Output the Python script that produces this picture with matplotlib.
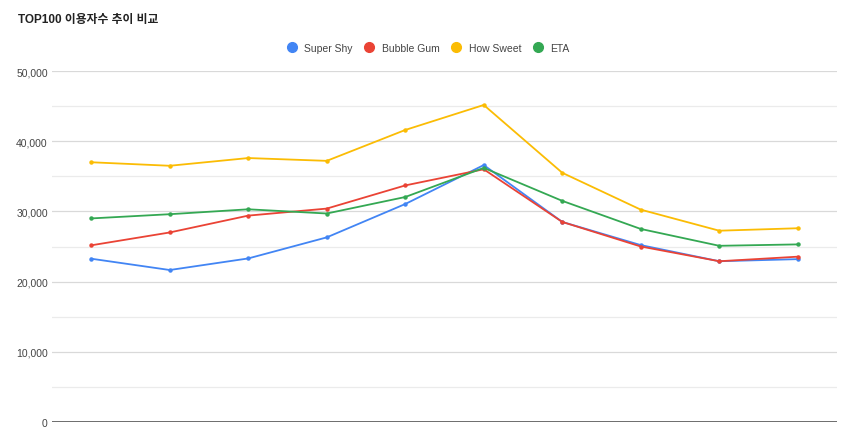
import matplotlib.pyplot as plt
from matplotlib.lines import Line2D
from matplotlib.ticker import FuncFormatter, MultipleLocator

plt.rcParams['font.family'] = ['Liberation Sans', 'Noto Sans CJK KR', 'DejaVu Sans']

title = 'TOP100 이용자수 추이 비교'
series_names = ['Super Shy', 'Bubble Gum', 'How Sweet', 'ETA']
colors = ['#4285F4', '#EA4335', '#FBBC04', '#34A853']

super_shy = [23260, 21650, 23300, 26300, 31050, 36600, 28500, 25200, 22900, 23200]
bubble_gum = [25170, 27000, 29400, 30400, 33700, 36000, 28500, 25000, 22900, 23550]
how_sweet = [37000, 36500, 37600, 37200, 41600, 45160, 35500, 30250, 27250, 27600]
eta = [29000, 29600, 30300, 29700, 32050, 36200, 31500, 27500, 25100, 25300]

values = [super_shy, bubble_gum, how_sweet, eta]
x = list(range(len(super_shy)))

fig = plt.figure(figsize=(8.5, 4.39), dpi=100)
ax = fig.add_axes([52 / 850, 16 / 439, (837 - 52) / 850, (423 - 72) / 439])

for vals, c in zip(values, colors):
    ax.plot(x, vals, color=c, lw=1.3, marker='o', ms=2.2, zorder=3)

ax.set_xlim(-0.5, len(x) - 0.5)
ax.set_ylim(0, 50000)
ax.yaxis.set_major_locator(MultipleLocator(10000))
ax.yaxis.set_minor_locator(MultipleLocator(5000))
ax.yaxis.set_major_formatter(FuncFormatter(lambda v, p: f'{int(v):,}'))
ax.grid(axis='y', which='major', color='#d9d9d9', lw=0.9)
ax.grid(axis='y', which='minor', color='#ebebeb', lw=0.9)
ax.axhline(0, color='#555555', lw=1.2, zorder=4)
ax.set_xticks([])
ax.tick_params(axis='y', which='both', length=0, labelsize=7.5, labelcolor='#444444', pad=3)
for s in ax.spines.values():
    s.set_visible(False)

fig.text(18 / 850, 1 - 20 / 439, title, fontsize=8.5, fontweight='bold',
         color='#222222', va='center', ha='left')

handles = [Line2D([], [], ls='none', marker='o', ms=7, color=c) for c in colors]
fig.legend(handles, series_names, loc='center', bbox_to_anchor=(428 / 850, 1 - 49 / 439),
           ncol=4, frameon=False, fontsize=7.5, handletextpad=0.7, columnspacing=1.1,
           labelcolor='#444444', handlelength=1.0)

fig.savefig('out.png', dpi=100, facecolor='white')
